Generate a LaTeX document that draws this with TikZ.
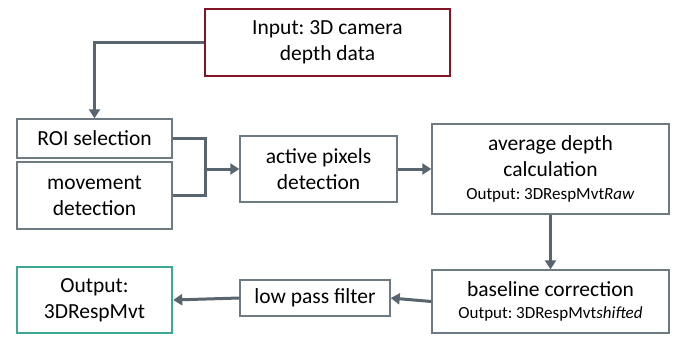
\documentclass[tikz,border=0pt]{standalone}
\usepackage{fontspec}
\setmainfont{Carlito}
\frenchspacing
\usetikzlibrary{arrows.meta,positioning}
\definecolor{boxgray}{RGB}{110,122,130}
\definecolor{flowgray}{RGB}{88,100,110}
\definecolor{inred}{RGB}{130,22,38}
\definecolor{outteal}{RGB}{62,168,150}
\newcommand{\outtext}{\fontsize{17}{20}\selectfont}
\tikzset{
  box/.style={draw=boxgray,line width=1.4pt,fill=white,align=center,inner sep=2pt,
    font=\fontsize{21.5}{26}\selectfont},
  inbox/.style={box,draw=inred,line width=2.4pt},
  outbox/.style={box,draw=outteal,line width=2.4pt},
  flow/.style={draw=flowgray,line width=3pt,-{Triangle[length=9pt,width=11pt]}},
  link/.style={draw=flowgray,line width=3pt}
}
\begin{document}
\begin{tikzpicture}[x=1pt,y=-1pt]
\useasboundingbox (0,0) rectangle (677,337);
% \draw[help lines,step=50] (0,0) grid (677,337);
\node (input) [inbox,minimum width=245,minimum height=67] at (327.5,42.5) {Input: 3D camera\\depth data};
\node (roi) [box,minimum width=155,minimum height=39] at (94.5,138.5) {ROI selection};
\node (mov) [box,minimum width=155,minimum height=67] at (94.5,195.5) {movement\\detection};
\node (act) [box,minimum width=157,minimum height=66] at (318.5,169) {active pixels\\detection};
\node (avg) [box,minimum width=237,minimum height=90] at (550.5,169)
  {average depth\\calculation\\[-3pt]{\outtext Output: 3DRespMvt\textit{Raw}}};
\node (base) [box,minimum width=237,minimum height=63] at (550.5,301.5)
  {baseline correction\\[-4pt]{\outtext Output: 3DRespMvt\textit{shifted}}};
\node (lpf) [box,minimum width=150,minimum height=36] at (315,298) {low pass filter};
\node (out) [outbox,minimum width=155,minimum height=66] at (94.5,300) {Output:\\3DRespMvt};
\coordinate (join) at (205,169);
%
\draw[flow] (input.west) -| (roi.north);
\draw[link] (roi.east) -| (join) |- (mov.east);
\draw[flow] (join) -- (act.west);
\draw[flow] (act.east) -- (avg.west);
\draw[flow] (avg.south) -- (base.north);
\draw[flow] (base.west) -- (lpf.east);
\draw[flow] (lpf.west) -- (out.east);
%
\end{tikzpicture}
\end{document}
